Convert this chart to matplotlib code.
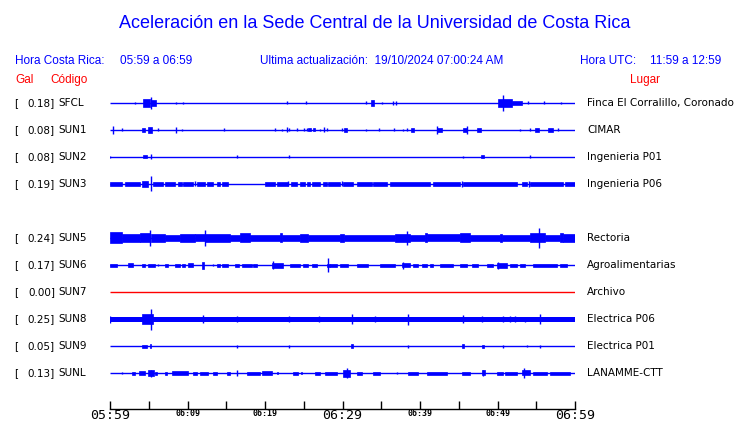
import matplotlib
matplotlib.use("Agg")
import matplotlib.pyplot as plt

# station info
codes = ["SFCL", "SUN1", "SUN2", "SUN3", "SUN5", "SUN6", "SUN7", "SUN8", "SUN9", "SUNL"]
gals = ["0.18", "0.08", "0.08", "0.19", "0.24", "0.17", "0.00", "0.25", "0.05", "0.13"]
places = ["Finca El Corralillo, Coronado", "CIMAR", "Ingenieria P01", "Ingenieria P06",
          "Rectoria", "Agroalimentarias", "Archivo", "Electrica P06", "Electrica P01",
          "LANAMME-CTT"]
rows = [0, 1, 2, 3, 5, 6, 7, 8, 9, 10]

tick_minutes = list(range(0, 61, 5))
tick_labels = ["05:59", "", "06:09", "", "06:19", "", "06:29", "", "06:39", "", "06:49", "", "06:59"]

# trace activity: (start minute, end minute, amplitude) since 05:59
base_band = {"SUN8": 2.5}

sfcl = [(3.2, 3.3, 1), (4.2, 5.2, 4), (5.16, 5.3, 6), (5.3, 5.9, 3), (8.5, 8.6, 1), (9.4, 9.5, 1),
        (22.83, 22.93, 1.5), (25.28, 25.38, 1.5), (33.0, 33.1, 1.5), (33.7, 34.1, 3), (35.0, 35.1, 1),
        (36.5, 36.6, 2), (36.8, 36.9, 2), (50.0, 51.9, 4), (50.65, 50.8, 8), (51.9, 53.2, 2),
        (53.9, 54.0, 1.5), (56.0, 56.1, 1.5), (58.2, 58.3, 1)]
sun1 = [(0.35, 0.45, 4), (1.5, 1.6, 1.5), (4.1, 4.5, 2), (4.9, 5.4, 3), (6.1, 6.2, 1.5), (8.5, 8.6, 3),
        (9.3, 9.4, 1), (14.6, 14.7, 1.5), (21.3, 21.4, 1.5), (22.1, 22.2, 0.7), (22.8, 22.9, 2.5),
        (23.1, 23.2, 1.5), (24.1, 24.2, 1.5), (25.0, 25.1, 1.5), (25.4, 25.5, 1.5), (25.6, 25.9, 1.5),
        (26.2, 26.5, 1.5), (27.0, 27.1, 1), (27.6, 27.7, 2.5), (28.0, 28.1, 1.5), (29.9, 30.0, 1.5),
        (30.2, 30.6, 2), (33.0, 33.1, 1), (34.6, 34.7, 1.5), (36.6, 36.7, 1.5), (37.8, 37.9, 1),
        (38.3, 38.4, 1.5), (38.8, 39.2, 2), (42.1, 42.25, 4), (42.25, 42.8, 2), (45.6, 46.0, 2),
        (46.0, 46.15, 4), (47.3, 47.9, 2), (52.8, 52.9, 1), (54.2, 54.3, 1.5), (54.9, 55.3, 2),
        (56.5, 57.1, 2), (57.8, 57.9, 1.5)]
sun2 = [(0.0, 0.1, 1), (4.3, 4.8, 1.5), (5.2, 5.35, 2.5), (16.4, 16.5, 1.5), (23.0, 23.1, 1.5),
        (45.5, 45.6, 1), (47.9, 48.2, 1.5), (54.1, 54.2, 1.5)]
sun3 = [(0.0, 1.5, 1.8), (1.9, 3.9, 1.8), (4.1, 4.9, 3), (5.16, 5.3, 7.5), (5.5, 6.8, 1.8),
        (7.1, 8.4, 1.8), (8.8, 9.3, 1.8), (9.4, 10.7, 1.8), (10.97, 11.07, 2.5), (11.2, 12.3, 1.8),
        (12.5, 13.3, 1.8), (13.8, 14.2, 1.8), (14.5, 15.2, 1.8), (20.0, 21.3, 1.8), (21.5, 23.0, 1.8),
        (22.96, 23.06, 2.5), (23.4, 24.1, 1.8), (24.5, 25.2, 1.8), (25.4, 25.8, 1.8), (26.1, 27.1, 1.8),
        (27.5, 28.0, 1.8), (28.1, 29.7, 1.8), (29.93, 30.03, 2.5), (30.1, 31.4, 1.8), (31.9, 33.8, 1.8),
        (33.9, 35.7, 1.8), (36.1, 41.3, 1.8), (41.7, 45.2, 1.8), (45.41, 45.51, 3), (45.5, 52.5, 1.8),
        (53.2, 53.8, 1.8), (54.05, 54.15, 3), (54.2, 58.5, 1.8), (58.7, 60.0, 1.8)]
sun5 = [(0, 1.55, 5.5), (1.55, 3.87, 4), (3.87, 5.16, 4.5), (5.16, 5.29, 8), (5.29, 7.1, 4),
        (7.1, 9.03, 3), (9.03, 10.97, 4), (10.97, 12.26, 3.5), (12.2, 12.3, 8), (12.26, 15.48, 4),
        (15.48, 16.77, 3), (16.77, 18.06, 4.5), (18.06, 21.93, 3), (21.93, 22.2, 4.5), (22.2, 24.51, 3),
        (24.51, 25.6, 4), (25.6, 29.67, 3), (29.67, 30.2, 4), (30.2, 36.77, 3), (36.77, 38.7, 4),
        (38.31, 38.41, 7), (38.7, 40.64, 3), (40.64, 40.9, 4.5), (40.9, 45.15, 3.5), (45.15, 46.44, 4.5),
        (46.44, 50.31, 3), (50.31, 50.6, 4), (50.6, 54.18, 3), (54.18, 56.1, 4.5), (55.3, 55.4, 10),
        (56.1, 58.05, 3), (58.05, 58.4, 4.5), (58.4, 60, 4)]
sun6 = [(0, 0.9, 1.5), (2.3, 3.0, 2), (4.1, 4.5, 1.5), (4.9, 5.8, 1.5), (6.2, 6.3, 1), (7.1, 7.5, 1.5),
        (8.4, 9.0, 1.5), (9.3, 9.7, 1.5), (10.1, 10.7, 2), (11.9, 12.1, 3.5), (13.2, 13.3, 1),
        (13.8, 14.2, 1.5), (14.5, 15.2, 1.5), (16.1, 16.6, 1.5), (17.0, 18.3, 1.5), (18.5, 19.0, 1.5),
        (20.9, 22.3, 2.5), (21.0, 21.1, 4), (23.2, 24.5, 1.5), (24.9, 25.5, 1.5), (26.1, 26.7, 1.5),
        (28.0, 28.4, 1.5), (28.1, 28.2, 7), (28.4, 29.3, 1.5), (29.7, 30.7, 1.5), (31.9, 33.3, 1.5),
        (34.8, 36.8, 1.5), (37.7, 38.7, 2), (37.8, 37.9, 3.5), (39.1, 39.7, 1.5), (40.3, 40.9, 1.5),
        (41.3, 41.7, 1.5), (42.6, 44.3, 1.5), (45.2, 46.1, 1.5), (46.7, 47.5, 1.5), (48.6, 49.4, 1.5),
        (49.9, 51.2, 2.5), (50.0, 50.1, 3.5), (51.6, 52.5, 1.5), (52.9, 53.5, 1.5), (54.6, 57.7, 1.5),
        (58.1, 59.0, 1.5)]
sun7 = []
sun8 = [(0.0, 0.1, 3.5), (4.1, 5.5, 5), (5.16, 5.3, 10.5), (12.0, 12.1, 4), (16.4, 16.5, 3),
        (23.0, 23.1, 3), (26.9, 27.0, 3), (31.2, 31.35, 5), (34.2, 34.3, 3), (38.4, 38.5, 5.5),
        (45.5, 45.6, 4), (48.0, 48.1, 3), (50.7, 50.8, 3), (51.6, 51.7, 3), (52.2, 52.3, 3),
        (53.5, 53.6, 2.5), (55.45, 55.55, 5)]
sun9 = [(4.1, 4.8, 1.5), (5.16, 5.35, 2), (16.4, 16.5, 1.5), (23.0, 23.1, 1.5), (31.1, 31.4, 2),
        (38.4, 38.5, 1.5), (45.4, 45.7, 2), (48.0, 48.2, 1.5), (50.7, 50.8, 1.5), (53.8, 53.9, 1),
        (55.45, 55.55, 1.5)]
sunl = [(1.5, 1.6, 1), (2.9, 3.2, 1.5), (3.7, 4.5, 2), (4.9, 5.7, 3), (5.16, 5.3, 3.5), (5.8, 6.0, 1.5),
        (7.1, 7.4, 1.5), (8.0, 10.0, 2), (10.7, 11.2, 1.5), (11.6, 12.6, 1.5), (13.3, 13.8, 1.5),
        (15.1, 15.5, 1.5), (16.38, 16.48, 3), (17.7, 19.4, 1.5), (19.6, 20.9, 2), (21.5, 21.7, 1),
        (23.6, 24.3, 1.5), (24.6, 24.8, 1), (26.5, 27.1, 1.5), (27.7, 29.3, 1.5), (30.1, 31.0, 3.5),
        (30.5, 30.65, 5), (31.9, 32.5, 1.5), (33.9, 34.8, 1.5), (37.0, 37.1, 1), (38.4, 39.7, 1.5),
        (40.9, 43.5, 1.5), (45.4, 46.4, 1.5), (48.0, 48.4, 2.5), (48.1, 48.2, 3), (49.9, 50.7, 1.5),
        (51.0, 52.5, 1.5), (53.2, 54.2, 2.5), (53.4, 53.5, 5), (54.6, 56.4, 1.5), (56.8, 59.3, 1.5)]
traces = [sfcl, sun1, sun2, sun3, sun5, sun6, sun7, sun8, sun9, sunl]

BLUE = "#0000ff"
RED = "#ff0000"
AMP = 1 / 27.0   # amplitude units -> row spacing

W, H = 740, 423
fig = plt.figure(figsize=(W / 100, H / 100), dpi=100)
ax = fig.add_axes([110 / W, 1 - 408.5 / H, 465 / W, (408.5 - 90) / H])

for code, row, segs in zip(codes, rows, traces):
    color = RED if code == "SUN7" else BLUE
    ax.hlines(row, 0, 60, color=color, lw=1.0)
    band = base_band.get(code, 0.0)
    if band:
        ax.bar(0, 2 * band * AMP, width=60, bottom=row - band * AMP, align="edge",
               color=color, lw=0)
    for s, e, a in segs:
        if e - s <= 0.16:
            ax.vlines((s + e) / 2, row - a * AMP, row + a * AMP, color=color, lw=1.0)
        else:
            ax.bar(s, 2 * a * AMP, width=e - s, bottom=row - a * AMP, align="edge",
                   color=color, lw=0.5, edgecolor=color)

ax.set_xlim(0, 60)
ax.set_ylim((408.5 - 103) / 27, (90 - 103) / 27)
for sp in ["top", "left", "right"]:
    ax.spines[sp].set_visible(False)
ax.spines["bottom"].set_linewidth(1.0)
ax.set_yticks([])
ax.set_xticks(tick_minutes)
ax.set_xticklabels(tick_labels)
ax.tick_params(axis="x", direction="in", length=6, width=1.0, pad=0)
for i, lab in enumerate(ax.get_xticklabels()):
    big = tick_labels[i] in ("05:59", "06:29", "06:59")
    lab.set_fontfamily("DejaVu Sans Mono")
    lab.set_fontsize(9.5 if big else 6)
    if not big:
        lab.set_fontweight("bold")

def ftext(x, y, s, **kw):
    fig.text(x / W, 1 - y / H, s, va="center", **kw)

hdr = dict(family="Liberation Sans", fontsize=8.5, color=BLUE)
ftext(375, 23, "Aceleración en la Sede Central de la Universidad de Costa Rica",
      family="Liberation Sans", fontsize=13, color=BLUE, ha="center")
ftext(15, 61, "Hora Costa Rica:", **hdr)
ftext(120, 61, "05:59 a 06:59", **hdr)
ftext(260, 61, "Ultima actualización:  19/10/2024 07:00:24 AM", **hdr)
ftext(580, 61, "Hora UTC:", **hdr)
ftext(650, 61, "11:59 a 12:59", **hdr)
red = dict(family="Liberation Sans", fontsize=8.5, color=RED)
ftext(15, 80, "Gal", **red)
ftext(50, 80, "Código", **red)
ftext(630, 80, "Lugar", **red)

lab = dict(family="DejaVu Sans", fontsize=7.5, color="black")
for code, g, place, row in zip(codes, gals, places, rows):
    y = 103 + 27 * row
    ftext(14, y, "[", **lab)
    ftext(55, y, g + "]", ha="right", **lab)
    ftext(58, y, code, **lab)
    ftext(587, y, place, **lab)

fig.savefig("out.png", dpi=100)
